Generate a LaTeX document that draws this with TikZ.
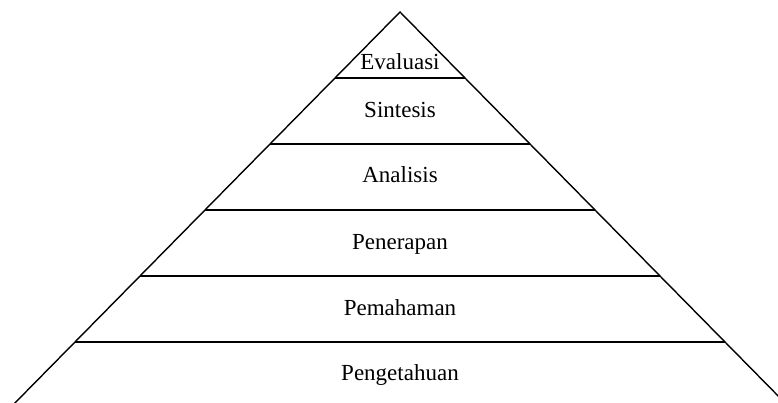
\documentclass[tikz,border=0pt]{standalone}
\usepackage{fontspec}
\setmainfont{Liberation Serif}
\usetikzlibrary{calc}

\begin{document}
\begin{tikzpicture}[
  x=1pt, y=-1pt,
  lvl/.style={anchor=base, inner sep=0pt, font=\fontsize{23}{26}\selectfont},
  edge/.style={line width=1.4pt},
  tier/.style={line width=1.8pt}]
\useasboundingbox (0,0) rectangle (778,403);
\coordinate (apex) at (400,12);
\coordinate (bl) at (10,408);
\coordinate (br) at (790,408);
\draw[edge, line join=miter] (bl) -- (apex) -- (br) -- cycle;
\foreach \i in {1,...,5}
  \draw[tier] ($(apex)!\i/6!(bl)$) -- ($(apex)!\i/6!(br)$);
\node[lvl] (eval) at (400,70) {Evaluasi};
\node[lvl] (sint) at (400,118) {Sintesis};
\node[lvl] (anal) at (400,183) {Analisis};
\node[lvl] (pene) at (400,249) {Penerapan};
\node[lvl] (pema) at (400,315) {Pemahaman};
\node[lvl] (peng) at (400,380) {Pengetahuan};
\end{tikzpicture}
\end{document}
